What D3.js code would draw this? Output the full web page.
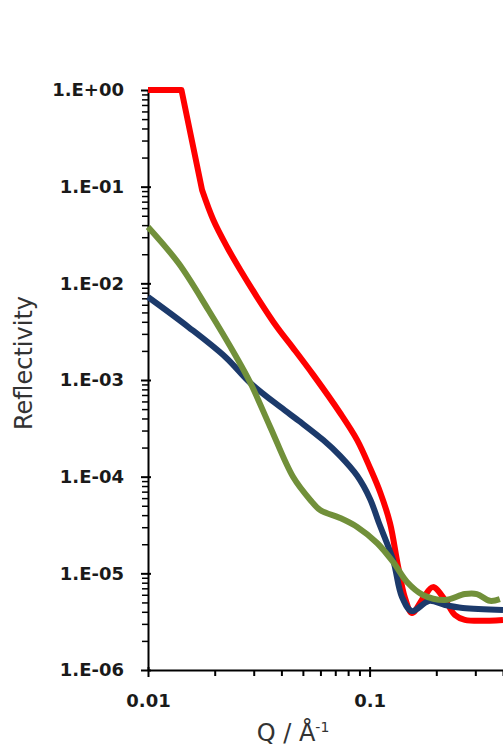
<!DOCTYPE html>
<html>
<head>
<meta charset="utf-8">
<script src="https://cdn.jsdelivr.net/npm/d3@7"></script>
<style>
  body { margin: 0; background: #fff; }
  svg { display: block; }
</style>
</head>
<body>
<svg id="chart" width="503" height="748"></svg>
<script>
// values (Q in 1/A, reflectivity)
const redQ = [0.01, 0.01416, 0.01754, 0.01972, 0.02274, 0.0261, 0.03105, 0.0382, 0.0452, 0.0557, 0.0736, 0.0879, 0.1005, 0.1115, 0.1236, 0.1344, 0.1445, 0.1553, 0.175, 0.193, 0.219, 0.2427, 0.269, 0.4];
const redR = [1, 1, 0.0924, 0.0452, 0.02376, 0.01374, 0.00722, 0.00353, 0.00214, 0.00113, 0.000456, 0.000239, 0.000123, 6.95e-5, 3.32e-5, 1.19e-5, 5.56e-6, 3.89e-6, 5.6e-6, 7.2e-6, 5.3e-6, 3.7e-6, 3.3e-6, 3.3e-6];

const blueQ = [0.01, 0.01522, 0.02234, 0.02897, 0.03954, 0.0487, 0.0618, 0.0736, 0.0879, 0.1005, 0.1098, 0.1277, 0.140, 0.1552, 0.1853, 0.2188, 0.2637, 0.4];
const blueR = [0.00722, 0.00353, 0.00173, 0.000931, 0.000526, 0.000368, 0.000239, 0.000164, 0.000102, 5.88e-5, 3.4e-5, 1.37e-5, 5.7e-6, 4.07e-6, 5.18e-6, 4.71e-6, 4.38e-6, 4.18e-6];

const greenQ = [0.01, 0.01372, 0.01873, 0.02504, 0.0290, 0.0356, 0.0452, 0.054, 0.0598, 0.0736, 0.0879, 0.1081, 0.1277, 0.1476, 0.1742, 0.2188, 0.2692, 0.305, 0.349, 0.387];
const greenR = [0.0383, 0.0162, 0.0053, 0.00173, 0.000931, 0.000327, 9.9e-5, 5.74e-5, 4.52e-5, 3.74e-5, 3.02e-5, 2.06e-5, 1.31e-5, 8.14e-6, 5.97e-6, 5.3e-6, 6.1e-6, 6.1e-6, 5.2e-6, 5.4e-6];

const yTickValues = [1, 1e-1, 1e-2, 1e-3, 1e-4, 1e-5, 1e-6];
const yTickLabels = ["1.E+00", "1.E-01", "1.E-02", "1.E-03", "1.E-04", "1.E-05", "1.E-06"];
const xTickValues = [0.01, 0.1];
const xTickLabels = ["0.01", "0.1"];

const width = 503, height = 748;
const margins = { top: 90, right: 0, bottom: 78, left: 148 };

const svg = d3.select("#chart");

const x = d3.scaleLog()
  .domain([0.01, 0.4])
  .range([margins.left, width - margins.right]);
const y = d3.scaleLog()
  .domain([1e-6, 1])
  .range([height - margins.bottom, margins.top]);

// minor ticks 2..9 of every decade
const yMinor = [];
for (let e = -6; e < 0; e++) for (let m = 2; m <= 9; m++) yMinor.push(m * Math.pow(10, e));
const xMinor = [];
for (let e = -2; e < 0; e++) for (let m = 2; m <= 9; m++) {
  const v = m * Math.pow(10, e);
  if (v <= 0.4) xMinor.push(v);
}

const tickFont = g => g
  .style("font-family", "'DejaVu Sans', sans-serif")
  .style("font-weight", "bold")
  .style("font-size", "18px")
  .attr("fill", "#1a1a1a");

// y axis
svg.append("g")
  .attr("transform", "translate(" + margins.left + ",0)")
  .call(d3.axisLeft(y).tickValues(yMinor).tickFormat("").tickSize(6).tickSizeOuter(0))
  .call(g => g.select(".domain").remove())
  .selectAll("line").attr("stroke", "#000").attr("stroke-width", 1.5);

const yAxis = svg.append("g")
  .attr("transform", "translate(" + margins.left + ",0)")
  .call(d3.axisLeft(y).tickValues(yTickValues)
    .tickFormat((d, i) => yTickLabels[i]).tickSize(7).tickSizeOuter(0).tickPadding(17));
yAxis.select(".domain").attr("stroke", "#000").attr("stroke-width", 2);
yAxis.selectAll("line").attr("x1", 3).attr("stroke", "#000").attr("stroke-width", 2);
yAxis.selectAll("text").call(tickFont);

// x axis
const xTop = height - margins.bottom;
svg.append("g")
  .attr("transform", "translate(0," + xTop + ")")
  .call(d3.axisBottom(x).tickValues(xMinor).tickFormat("").tickSize(6).tickSizeOuter(0))
  .call(g => g.select(".domain").remove())
  .selectAll("line").attr("stroke", "#000").attr("stroke-width", 2);

const xAxis = svg.append("g")
  .attr("transform", "translate(0," + xTop + ")")
  .call(d3.axisBottom(x).tickValues(xTickValues)
    .tickFormat((d, i) => xTickLabels[i]).tickSize(7).tickSizeOuter(0).tickPadding(17));
xAxis.select(".domain").attr("stroke", "#000").attr("stroke-width", 2);
xAxis.selectAll("line").attr("y1", -3).attr("stroke", "#000").attr("stroke-width", 2);
xAxis.selectAll("text").call(tickFont);

// axis titles
svg.append("text")
  .attr("transform", "translate(32,363) rotate(-90)")
  .attr("text-anchor", "middle")
  .style("font-family", "'DejaVu Sans', sans-serif")
  .style("font-size", "24px")
  .attr("fill", "#333")
  .text("Reflectivity");

const xTitle = svg.append("text")
  .attr("x", 293)
  .attr("y", 741)
  .attr("text-anchor", "middle")
  .style("font-family", "'DejaVu Sans', sans-serif")
  .style("font-size", "24px")
  .attr("fill", "#333");
xTitle.append("tspan").text("Q / Å");
xTitle.append("tspan").attr("dy", -9).style("font-size", "14px").text("-1");

// series; "sharp" = number of leading segments drawn straight (red has a kink)
const series = [
  { q: redQ, r: redR, color: "#ff0000", sharp: 2 },
  { q: blueQ, r: blueR, color: "#1c3a6b", sharp: 0 },
  { q: greenQ, r: greenR, color: "#71903a", sharp: 0 }
];

const straight = d3.line().x(d => x(d[0])).y(d => y(d[1]));
const smooth = d3.line().x(d => x(d[0])).y(d => y(d[1])).curve(d3.curveCatmullRom.alpha(0.5));

function pathFor(s) {
  const pts = d3.zip(s.q, s.r);
  if (!s.sharp) return smooth(pts);
  const head = straight(pts.slice(0, s.sharp + 1));
  const tail = smooth(pts.slice(s.sharp)).replace(/^M[^A-Za-z]*/, "");
  return head + tail;
}

svg.append("g")
  .selectAll("path")
  .data(series)
  .enter()
  .append("path")
  .attr("fill", "none")
  .attr("stroke", s => s.color)
  .attr("stroke-width", 6)
  .attr("stroke-linejoin", "round")
  .attr("d", pathFor);
</script>
</body>
</html>
